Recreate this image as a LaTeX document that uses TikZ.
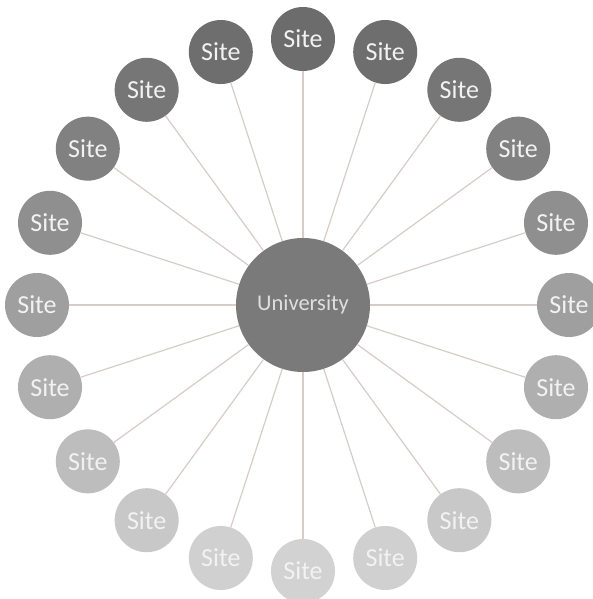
\documentclass[tikz,border=0pt]{standalone}
\usepackage{fontspec}
\setmainfont{Carlito}
\usetikzlibrary{calc}
\definecolor{unicol}{RGB}{122,122,122}
\definecolor{linecol}{RGB}{216,204,200}
\definecolor{sitetext}{RGB}{242,242,242}
\tikzset{
  site/.style={circle, minimum size=64pt, inner sep=0pt, draw=none, text=sitetext, font=\fontsize{26}{30}\selectfont},
  uni/.style={circle, minimum size=134pt, inner sep=0pt, fill=unicol, text=sitetext!92!black, font=\fontsize{22.5}{26}\selectfont},
  conn/.style={draw=linecol, line width=1.2pt}
}
\begin{document}
\begin{tikzpicture}[x=1pt,y=1pt]
\useasboundingbox (0,0) rectangle (593,-599);
\fill[white] (0,0) rectangle (593,-599);
\node[uni] (u) at (303,-305) {University};
\foreach \i in {0,...,19} {
  \pgfmathsetmacro\ang{90-18*\i}
  \pgfmathsetmacro\gv{(108+102*(1-sin(\ang))/2)/255}
  \definecolor{sitecol}{gray}{\gv}
  \node[site, fill=sitecol] (s\i) at ($(u.center)+(\ang:266)$) {Site};
  \draw[conn] (u) -- (s\i);
}
\end{tikzpicture}
\end{document}
